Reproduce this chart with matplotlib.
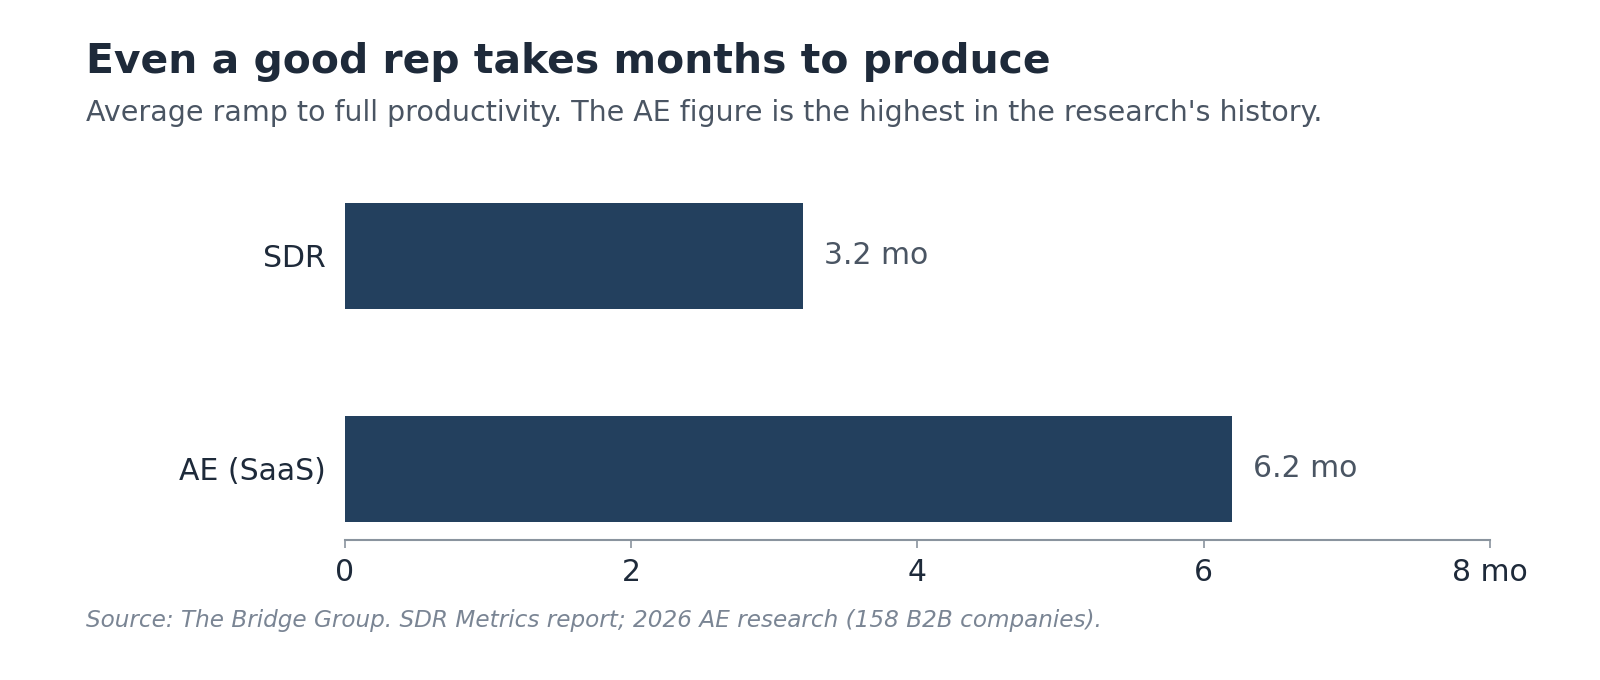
import matplotlib
matplotlib.use("Agg")
from matplotlib import pyplot as plt

roles = ["SDR", "AE (SaaS)"]
ramp_months = [3.2, 6.2]
xticks = [0, 2, 4, 6, 8]
xtick_labels = ["0", "2", "4", "6", "8 mo"]

navy = "#23405e"
dark = "#1e2a3a"
mid = "#4a5563"
light = "#7a8594"

fig = plt.figure(figsize=(16, 6.8), dpi=100)
ax = fig.add_axes([0.2156, 0.206, 0.7156, 0.522])

pos = list(range(len(roles)))
ax.barh(pos, ramp_months, height=0.5, color=navy)
for p, v in zip(pos, ramp_months):
    ax.annotate(f"{v:.1f} mo", (v, p), xytext=(15, 0), textcoords="offset points",
                va="center", ha="left", fontsize=21.5, color=mid)

ax.set_xlim(0, 8)
ax.set_ylim(1.333, -0.333)
ax.set_yticks(pos)
ax.set_yticklabels(roles, fontsize=21.5, color=dark)
ax.set_xticks(xticks)
ax.set_xticklabels(xtick_labels, fontsize=21.5, color=dark)
ax.tick_params(axis="y", length=0, pad=14)
ax.tick_params(axis="x", length=6, width=1.2, color="#8a949e", pad=7)
for s in ["top", "right", "left"]:
    ax.spines[s].set_visible(False)
ax.spines["bottom"].set_color("#8a949e")
ax.spines["bottom"].set_linewidth(1.5)

fig.text(86 / 1600, 1 - 62 / 680, "Even a good rep takes months to produce",
         fontsize=29.4, fontweight="bold", color=dark, va="center", ha="left")
fig.text(86 / 1600, 1 - 113 / 680,
         "Average ramp to full productivity. The AE figure is the highest in the research's history.",
         fontsize=20.5, color=mid, va="center", ha="left")
fig.text(86 / 1600, 1 - 620 / 680,
         "Source: The Bridge Group. SDR Metrics report; 2026 AE research (158 B2B companies).",
         fontsize=16.7, style="italic", color=light, va="center", ha="left")

fig.savefig("out.png", dpi=100)
